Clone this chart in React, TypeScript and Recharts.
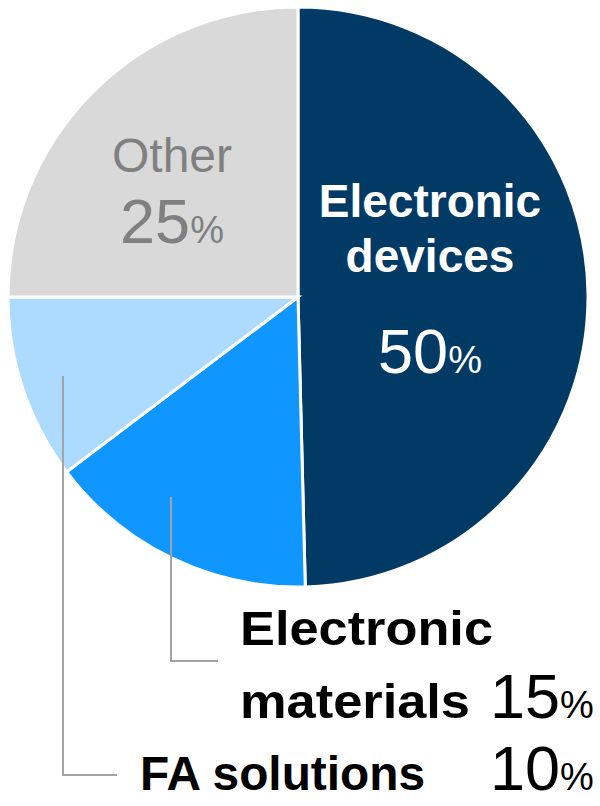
import { Pie, PieChart, Cell } from "recharts";

const segments = ["Electronic devices", "Electronic materials", "FA solutions", "Other"];
const shares = [49.6, 15.1, 10.3, 25.0];
const shareLabels = ["50", "15", "10", "25"];
const colors = ["#023A66", "#1096FF", "#ADDAFF", "#D9D9D9"];

const data = segments.map((name, i) => ({ name, value: shares[i] }));

const FONT = "'Liberation Sans', Arial, sans-serif";
const LINE = "#A3A3A3";

function renderLabel(props: any) {
  const { cx, cy, index } = props;
  const pct = shareLabels[index];

  if (index === 0) {
    return (
      <g fontFamily={FONT} fill="#fff" textAnchor="middle">
        <text x={cx + 132} y={cy - 80} fontSize={46} fontWeight="bold">Electronic</text>
        <text x={cx + 132} y={cy - 25} fontSize={46} fontWeight="bold">devices</text>
        <text x={cx + 132} y={cy + 76} fontSize={63}>
          {pct}
          <tspan fontSize={38}>%</tspan>
        </text>
      </g>
    );
  }
  if (index === 3) {
    return (
      <g fontFamily={FONT} fill="#808080" textAnchor="middle">
        <text x={cx - 126} y={cy - 125} fontSize={48}>Other</text>
        <text x={cx - 126} y={cy - 54} fontSize={63}>
          {pct}
          <tspan fontSize={38}>%</tspan>
        </text>
      </g>
    );
  }
  if (index === 1) {
    return (
      <g fontFamily={FONT} fill="#000">
        <polyline
          points={`${cx - 127},${cy + 200} ${cx - 127},${cy + 364} ${cx - 80},${cy + 364}`}
          fill="none"
          stroke={LINE}
          strokeWidth={2}
        />
        <text x={cx - 58} y={cy + 348} fontSize={48} fontWeight="bold" textLength={253} lengthAdjust="spacingAndGlyphs">
          Electronic
        </text>
        <text x={cx - 58} y={cy + 421} fontSize={48} fontWeight="bold" textLength={230} lengthAdjust="spacingAndGlyphs">
          materials
        </text>
        <text x={cx + 192} y={cy + 421} fontSize={63}>
          {pct}
          <tspan fontSize={38}>%</tspan>
        </text>
      </g>
    );
  }
  return (
    <g fontFamily={FONT} fill="#000">
      <polyline
        points={`${cx - 235},${cy + 79} ${cx - 235},${cy + 478} ${cx - 181},${cy + 478}`}
        fill="none"
        stroke={LINE}
        strokeWidth={2}
      />
      <text x={cx - 158} y={cy + 493} fontSize={48} fontWeight="bold" textLength={285} lengthAdjust="spacingAndGlyphs">
        FA solutions
      </text>
      <text x={cx + 192} y={cy + 493} fontSize={63}>
        {pct}
        <tspan fontSize={38}>%</tspan>
      </text>
    </g>
  );
}

export default function App() {
  return (
    <div style={{ width: 600, height: 806, background: "#fff" }}>
      <style>{`body{margin:0}`}</style>
      <PieChart width={600} height={806} margin={{ top: 0, right: 0, bottom: 0, left: 0 }}>
        <Pie
          data={data}
          dataKey="value"
          nameKey="name"
          cx={298}
          cy={297}
          outerRadius={290}
          startAngle={90}
          endAngle={-270}
          stroke="#fff"
          strokeWidth={3}
          label={renderLabel}
          labelLine={false}
          isAnimationActive={false}
        >
          {data.map((d, i) => (
            <Cell key={d.name} fill={colors[i]} />
          ))}
        </Pie>
      </PieChart>
    </div>
  );
}
